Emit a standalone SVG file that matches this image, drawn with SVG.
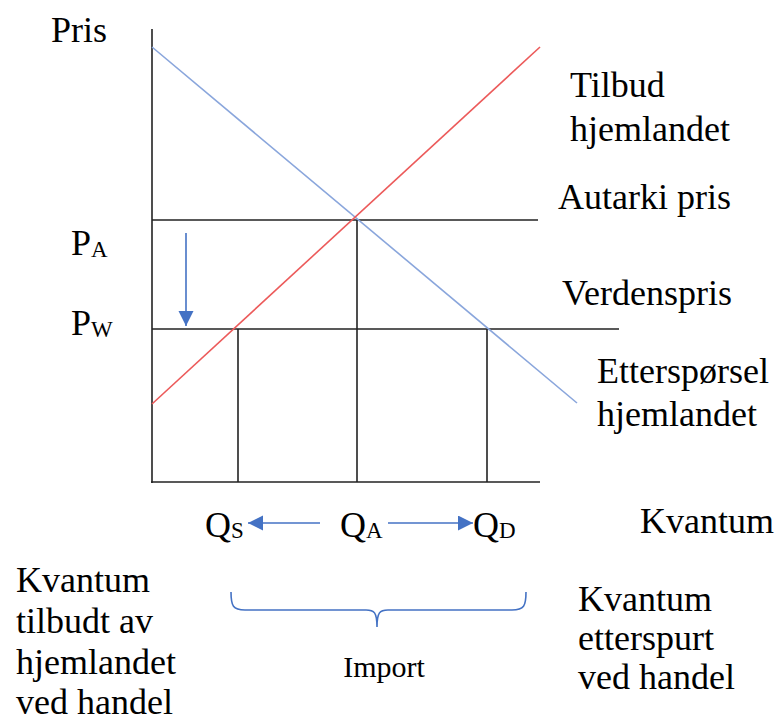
<svg xmlns="http://www.w3.org/2000/svg" width="782" height="722" viewBox="0 0 782 722">
<style>
  text { font-family: "Liberation Serif", "Times New Roman", serif; fill: #000; }
  .lbl { font-size: 36px; }
  .sub { font-size: 23px; }
  .imp { font-size: 30px; }
  .ax { stroke: #222; stroke-width: 1.6; fill: none; }
  .demand { stroke: #8aa6dc; stroke-width: 1.6; fill: none; }
  .supply { stroke: #ec5a5a; stroke-width: 1.6; fill: none; }
  .arr { stroke: #4472c4; stroke-width: 1.6; fill: none; }
</style>
<defs>
  <marker id="ah" markerUnits="userSpaceOnUse" markerWidth="16" markerHeight="16" refX="15" refY="7.5" orient="auto">
    <path d="M0,0 L15,7.5 L0,15 Z" fill="#4472c4"/>
  </marker>
</defs>
<rect width="782" height="722" fill="#fff"/>

<g id="axes">
  <line class="ax" x1="152" y1="29" x2="152" y2="483"/>
  <line class="ax" x1="151" y1="482" x2="540" y2="482"/>
</g>

<g id="connectors">
  <line class="ax" x1="152" y1="220" x2="538" y2="220"/>
  <line class="ax" x1="152" y1="329" x2="619" y2="329"/>
  <line class="ax" x1="238" y1="329" x2="238" y2="482"/>
  <line class="ax" x1="357" y1="220" x2="357" y2="482"/>
  <line class="ax" x1="487" y1="329" x2="487" y2="482"/>
  <line class="demand" x1="152" y1="47" x2="577" y2="403"/>
  <line class="supply" x1="152" y1="404" x2="540" y2="47"/>
  <line class="arr" x1="186" y1="233" x2="186" y2="326" marker-end="url(#ah)"/>
  <line class="arr" x1="320" y1="523" x2="248" y2="523" marker-end="url(#ah)"/>
  <line class="arr" x1="388" y1="523" x2="473" y2="523" marker-end="url(#ah)"/>
  <path class="arr" stroke-width="1.3" d="M231,592 C231,606 233,610 245,610 L366,610 C374,610 377,612 377,627 C377,612 380,610 388,610 L512,610 C524,610 526,606 526,592"/>
</g>

<g id="label-pris"><text class="lbl" x="51" y="42">Pris</text></g>
<g id="label-pa"><text class="lbl" x="71" y="255">P<tspan class="sub" dy="2">A</tspan></text></g>
<g id="label-pw"><text class="lbl" x="71" y="335">P<tspan class="sub" dy="2">W</tspan></text></g>
<g id="label-tilbud"><text class="lbl" x="570" y="97">Tilbud</text><text class="lbl" x="570" y="141">hjemlandet</text></g>
<g id="label-autarki"><text class="lbl" x="558" y="209">Autarki pris</text></g>
<g id="label-verdenspris"><text class="lbl" x="562" y="305">Verdenspris</text></g>
<g id="label-ettersporsel"><text class="lbl" x="597" y="383">Etterspørsel</text><text class="lbl" x="597" y="426">hjemlandet</text></g>
<g id="label-qs"><text class="lbl" x="205" y="537">Q<tspan class="sub" dy="1">S</tspan></text></g>
<g id="label-qa"><text class="lbl" x="340" y="537">Q<tspan class="sub" dy="1">A</tspan></text></g>
<g id="label-qd"><text class="lbl" x="473" y="537">Q<tspan class="sub" dy="1">D</tspan></text></g>
<g id="label-kvantum"><text class="lbl" x="640" y="533">Kvantum</text></g>
<g id="label-tilbudt">
  <text class="lbl" x="16" y="592">Kvantum</text>
  <text class="lbl" x="16" y="633">tilbudt av</text>
  <text class="lbl" x="16" y="674">hjemlandet</text>
  <text class="lbl" x="16" y="714">ved handel</text>
</g>
<g id="label-import"><text class="imp" x="384" y="677" text-anchor="middle">Import</text></g>
<g id="label-ettersp">
  <text class="lbl" x="578" y="611">Kvantum</text>
  <text class="lbl" x="578" y="650">etterspurt</text>
  <text class="lbl" x="578" y="689">ved handel</text>
</g>
</svg>
